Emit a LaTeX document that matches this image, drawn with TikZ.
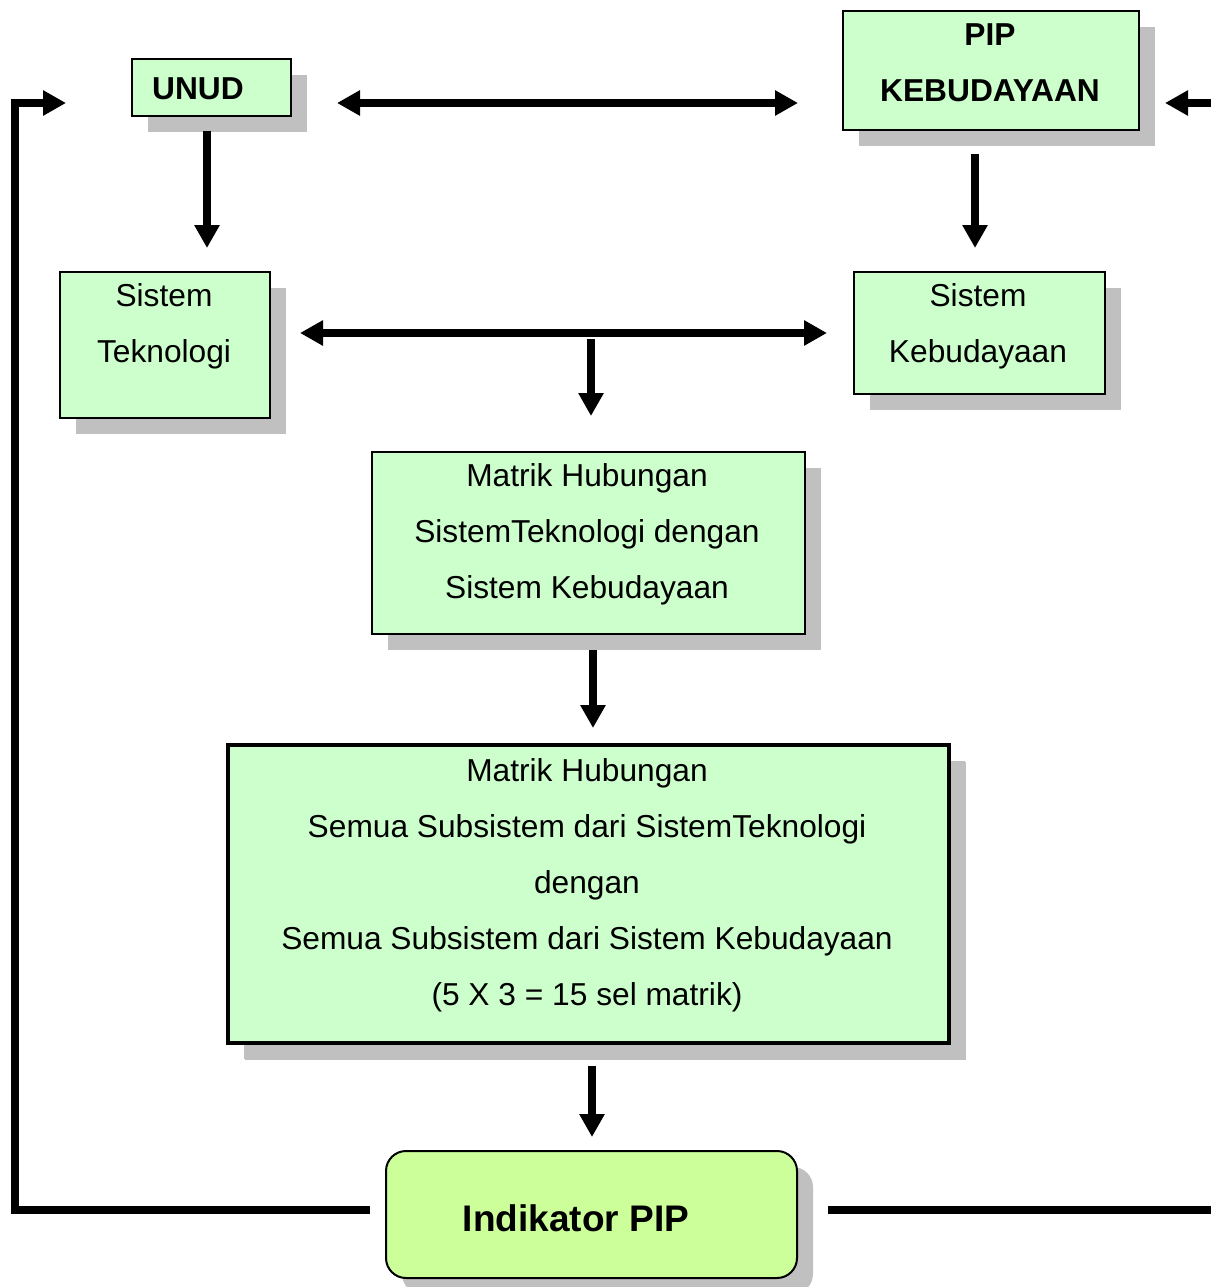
\documentclass[tikz,border=0pt]{standalone}
\usepackage{fontspec}
\setmainfont{Liberation Sans}
\usetikzlibrary{arrows.meta,shadows}
\definecolor{boxgreen}{HTML}{CCFFCC}
\definecolor{indgreen}{HTML}{CCFF99}
\definecolor{shadowgray}{HTML}{C0C0C0}

\begin{document}
\begin{tikzpicture}[x=1pt,y=-1pt,
    box/.style={draw,line width=2pt,fill=boxgreen,anchor=north west,inner sep=0pt,
        drop shadow={shadow xshift=16pt,shadow yshift=-16pt,fill=shadowgray,opacity=1}},
    txt/.style={font=\fontsize{31.7}{38}\selectfont,text height=22.7pt,text depth=0pt,inner sep=0pt},
    txtb/.style={txt,font=\fontsize{31.7}{38}\selectfont\bfseries},
    arr/.style={line width=7.5pt,-{Triangle[length=23pt,width=24pt]}},
    darr/.style={line width=7.5pt,{Triangle[length=23pt,width=24pt]}-{Triangle[length=23pt,width=24pt]}},
    fline/.style={line width=7.5pt}]
    \useasboundingbox (0,0) rectangle (1211,1287);

    % boxes
    \node[box,minimum width=159pt,minimum height=57pt] (unud) at (131,58) {};
    \node[box,minimum width=296pt,minimum height=119pt] (pip) at (842,10) {};
    \node[box,minimum width=210pt,minimum height=146pt] (tek) at (59,271) {};
    \node[box,minimum width=251pt,minimum height=122pt] (bud) at (853,271) {};
    \node[box,minimum width=433pt,minimum height=182pt] (m1) at (371,451) {};
    \node[box,line width=4pt,minimum width=721pt,minimum height=298pt,
        drop shadow={shadow xshift=17pt,shadow yshift=-17pt,fill=shadowgray,opacity=1}] (m2) at (226,743) {};
    \node[box,fill=indgreen,rounded corners=20pt,minimum width=411pt,minimum height=127pt] (ind) at (385,1150) {};

    % texts
    \node[txtb] (unud-t) at (198,88) {UNUD};
    \foreach \t [count=\i from 0] in {PIP,KEBUDAYAAN}
        \node[txtb] (pip-\i) at (990,34+56*\i) {\t};
    \foreach \t [count=\i from 0] in {Sistem,Teknologi}
        \node[txt] (tek-\i) at (164,295+56*\i) {\t};
    \foreach \t [count=\i from 0] in {Sistem,Kebudayaan}
        \node[txt] (bud-\i) at (978,295+56*\i) {\t};
    \foreach \t [count=\i from 0] in {Matrik Hubungan,SistemTeknologi dengan,Sistem Kebudayaan}
        \node[txt] (m1-\i) at (587,475+56*\i) {\t};
    \foreach \t [count=\i from 0] in {Matrik Hubungan,Semua Subsistem dari SistemTeknologi,dengan,
        Semua Subsistem dari Sistem Kebudayaan,{(5 X 3 = 15 sel matrik)}}
        \node[txt] (m2-\i) at (587,770+56*\i) {\t};
    \node[txtb,font=\fontsize{37}{44}\selectfont\bfseries,text height=26.5pt] (ind-t) at (576,1218) {Indikator PIP};

    % connector ends
    \coordinate (p1) at (337,103);
    \coordinate (p2) at (798,103);
    \coordinate (p3) at (207,131);
    \coordinate (p4) at (207,248);
    \coordinate (p5) at (975,154);
    \coordinate (p6) at (975,248);
    \coordinate (p7) at (300,333);
    \coordinate (p8) at (827,333);
    \coordinate (p9) at (591,339);
    \coordinate (p10) at (591,416);
    \coordinate (p11) at (593,650);
    \coordinate (p12) at (593,728);
    \coordinate (p13) at (592,1066);
    \coordinate (p14) at (592,1137);
    \coordinate (fb1) at (370,1210);
    \coordinate (fbc) at (15,103);
    \coordinate (fb2) at (66,103);
    \coordinate (fb3) at (828,1210);
    \coordinate (fb4) at (1211,1210);
    \coordinate (fb5) at (1211,103);
    \coordinate (fb6) at (1165,103);

    \draw[darr] (p1) -- (p2);
    \draw[arr] (p3) -- (p4);
    \draw[arr] (p5) -- (p6);
    \draw[darr] (p7) -- (p8);
    \draw[arr] (p9) -- (p10);
    \draw[arr] (p11) -- (p12);
    \draw[arr] (p13) -- (p14);
    \draw[arr] (fb1) -| (fbc) -- (fb2);
    \draw[fline] (fb3) -- (fb4);
    \draw[arr] (fb5) -- (fb6);
\end{tikzpicture}
\end{document}
